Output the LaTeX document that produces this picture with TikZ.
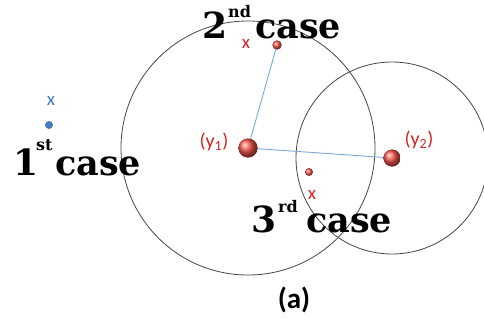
\documentclass[tikz,border=0pt]{standalone}
\usepackage{fontspec}
\newfontfamily\casefont{DejaVu Serif}
\newfontfamily\calfont{Carlito}
\definecolor{ballred}{RGB}{245,85,75}
\definecolor{xred}{RGB}{215,35,35}
\definecolor{linkblue}{RGB}{125,165,215}
\definecolor{dotblue}{RGB}{70,120,195}
\definecolor{ringgray}{RGB}{70,70,70}
\begin{document}
\begin{tikzpicture}[x=1pt,y=-1pt,
  ring/.style={draw=ringgray, line width=0.8pt},
  link/.style={draw=linkblue, line width=0.9pt},
  bigball/.style={circle, inner sep=0pt, minimum size=#1, shading=ball, ball color=ballred},
  bluedot/.style={circle, inner sep=0pt, minimum size=8pt, fill=dotblue},
  casenum/.style={anchor=base west, inner sep=0pt, font=\casefont\bfseries\fontsize{36}{36}\selectfont},
  casesup/.style={anchor=base west, inner sep=0pt, font=\casefont\bfseries\fontsize{16}{16}\selectfont},
  caseword/.style={anchor=base west, inner sep=0pt, font=\casefont\bfseries\fontsize{35}{35}\selectfont},
  xlab/.style={inner sep=0pt, font=\calfont\fontsize{19}{19}\selectfont},
  ylab/.style={inner sep=0pt, text=xred, font=\calfont\fontsize{20}{20}\selectfont},
  caption/.style={inner sep=0pt, font=\calfont\bfseries\fontsize{29}{29}\selectfont}]
\useasboundingbox (0,0) rectangle (484,327);
% balls
\node[bigball=19pt] (y1) at (248,148) {};
\node[bigball=17pt] (y2) at (392,158) {};
\node[bigball=9pt] (p2) at (277,45) {};
\node[bigball=8pt] (p3) at (309,172) {};
\node[bluedot] (p1) at (49,125) {};
% circles
\draw[ring] (y1.center) circle (127);
\draw[ring] (y2.center) circle (96);
% links
\draw[link] (y1.center) -- (p2.center);
\draw[link] (y1.center) -- (y2.center);
\node[bigball=19pt] at (y1) {};
\node[bigball=17pt] at (y2) {};
\node[bigball=9pt] at (p2) {};
% x marks
\node[xlab, text=dotblue] (x1) at (51,101) {x};
\node[xlab, text=xred] (x2) at (246,44) {x};
\node[xlab, text=xred] (x3) at (312,195) {x};
% labels
\node[ylab] (l1) at (214,142) {(y\textsubscript{1})};
\node[ylab] (l2) at (419,140) {(y\textsubscript{2})};
% case texts
\node[casenum] (n1) at (13,175) {1};
\node[casesup] (s1) at (36,150) {st};
\node[caseword] (c1) at (55,175) {case};
\node[casenum] (n2) at (202,38) {2};
\node[casesup] (s2) at (228,17) {nd};
\node[caseword] (c2) at (255,38) {case};
\node[casenum] (n3) at (251,232) {3};
\node[casesup] (s3) at (278,212) {rd};
\node[caseword] (c3) at (306,232) {case};
% caption
\node[caption] (cap) at (294,300) {(a)};
\end{tikzpicture}
\end{document}
